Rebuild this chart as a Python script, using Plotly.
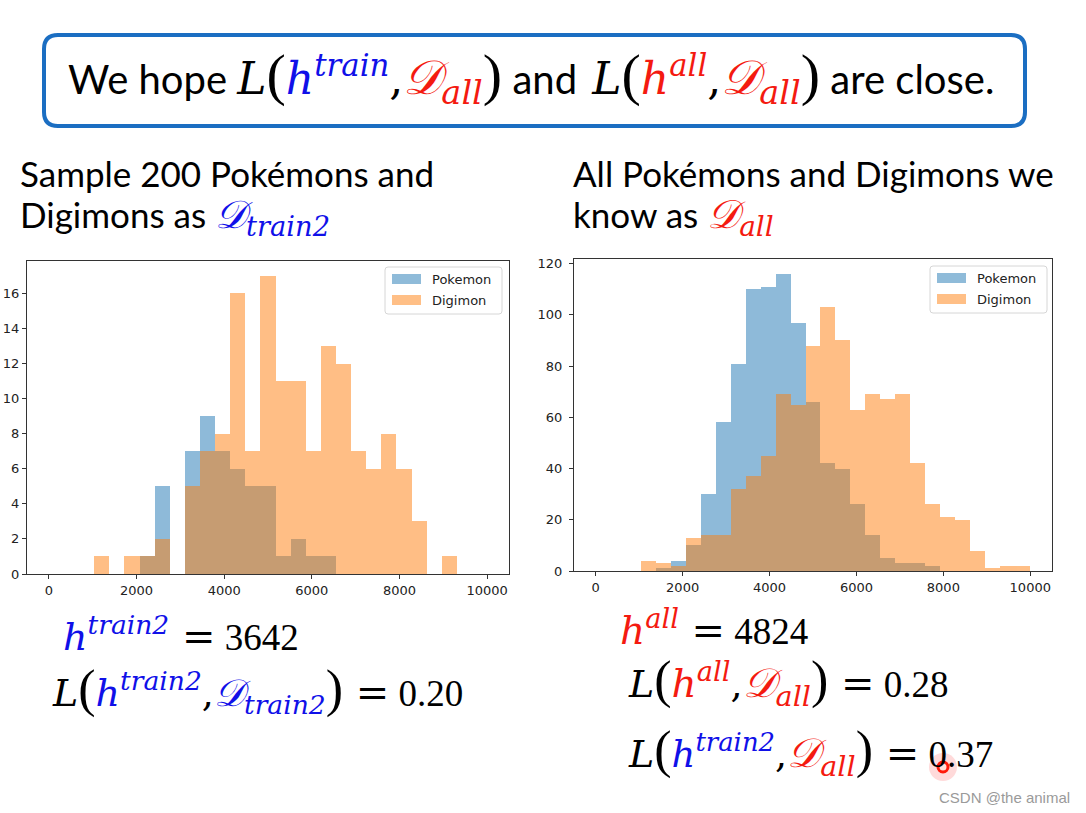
import plotly.graph_objects as go

# ---------------- data ----------------
X_MIN, X_MAX, N_BINS = 0, 10000, 29
series_names = ["Pokemon", "Digimon"]
left_pokemon = [0, 0, 0, 0, 0, 0, 1, 5, 0, 7, 9, 7, 6, 5, 5, 1, 2, 1, 1, 0, 0, 0, 0, 0, 0, 0, 0, 0, 0]
left_digimon = [0, 0, 0, 1, 0, 1, 1, 2, 0, 5, 7, 8, 16, 7, 17, 11, 11, 7, 13, 12, 7, 6, 8, 6, 3, 0, 1, 0, 0]
right_pokemon = [0, 0, 0, 0, 1, 4, 10, 30, 58, 81, 110, 111, 116, 97, 66, 42, 40, 26, 14, 5, 3, 3, 2, 0, 0, 0, 0, 0, 0]
right_digimon = [0, 0, 0, 4, 3, 2, 13, 14, 14, 32, 37, 45, 69, 65, 88, 103, 90, 63, 69, 67, 69, 42, 26, 21, 20, 8, 1, 2, 2]
x_ticks = [0, 2000, 4000, 6000, 8000, 10000]
x_tick_labels = ["0", "2000", "4000", "6000", "8000", "10000"]
left_y_ticks = [0, 2, 4, 6, 8, 10, 12, 14, 16]
right_y_ticks = [0, 20, 40, 60, 80, 100, 120]

# ---------------- geometry helpers (page pixels -> paper) ----------------
W, H = 1086, 813
FW, FH = W, H


def px(X):
    return X / FW


def py(Y):
    return 1 - Y / FH


bw = (X_MAX - X_MIN) / N_BINS
centers = [X_MIN + (i + 0.5) * bw for i in range(N_BINS)]

C_BLUE = "#1f77b4"
C_ORANGE = "#ff7f0e"

fig = go.Figure()
for (xa, ya, pk, dg) in [("x", "y", left_pokemon, left_digimon), ("x2", "y2", right_pokemon, right_digimon)]:
    fig.add_trace(go.Bar(x=centers, y=pk, width=bw, name=series_names[0], xaxis=xa, yaxis=ya,
                         marker=dict(color=C_BLUE, line=dict(width=0)), opacity=0.5, showlegend=False))
    fig.add_trace(go.Bar(x=centers, y=dg, width=bw, name=series_names[1], xaxis=xa, yaxis=ya,
                         marker=dict(color=C_ORANGE, line=dict(width=0)), opacity=0.5, showlegend=False))

tickfont = dict(family="DejaVu Sans", size=13, color="#222")
axis_common = dict(showline=True, mirror=True, linecolor="#333", linewidth=1, ticks="outside",
                   ticklen=4, tickcolor="#333", showgrid=False, zeroline=False, tickfont=tickfont,
                   automargin=False)

fig.update_layout(
    width=FW, height=FH, margin=dict(l=0, r=0, t=0, b=0, autoexpand=False),
    paper_bgcolor="white", plot_bgcolor="white", barmode="overlay", bargap=0,
    xaxis=dict(domain=[px(27), px(509)], range=[-500, 10500], tickvals=x_ticks, ticktext=x_tick_labels,
               anchor="y", **axis_common),
    yaxis=dict(domain=[py(574), py(261)], range=[0, 17.85], tickvals=left_y_ticks, anchor="x",
               **axis_common),
    xaxis2=dict(domain=[px(574), px(1052)], range=[-500, 10500], tickvals=x_ticks, ticktext=x_tick_labels,
                anchor="y2", **axis_common),
    yaxis2=dict(domain=[py(571), py(259)], range=[0, 121.8], tickvals=right_y_ticks, anchor="x2",
                ticklabelstandoff=4, **axis_common),
)


def rrect_path(x0, y0, x1, y1, r):
    X0, X1, Y0, Y1 = px(x0), px(x1), py(y0), py(y1)
    rx, ry = r / FW, r / FH
    return (f"M{X0+rx},{Y0} L{X1-rx},{Y0} Q{X1},{Y0} {X1},{Y0-ry} L{X1},{Y1+ry} "
            f"Q{X1},{Y1} {X1-rx},{Y1} L{X0+rx},{Y1} Q{X0},{Y1} {X0},{Y1+ry} "
            f"L{X0},{Y0-ry} Q{X0},{Y0} {X0+rx},{Y0} Z")


shapes = []
# title box
shapes.append(dict(type="path", xref="paper", yref="paper", path=rrect_path(44, 35, 1025, 126, 14),
                   line=dict(color="#1b6ec2", width=4), fillcolor="rgba(0,0,0,0)"))

annotations = []


def add_text(x, y, text, size=35, family="Lato", color="#000", xanchor="left"):
    annotations.append(dict(x=px(x), y=py(y), xref="paper", yref="paper", text=text, showarrow=False,
                            xanchor=xanchor, yanchor="middle", align="left",
                            font=dict(family=family, size=size, color=color)))


# manual legends (matplotlib style)
for (lx, ly) in [(385, 267), (930, 266)]:
    shapes.append(dict(type="path", xref="paper", yref="paper", path=rrect_path(lx, ly, lx + 117, ly + 47, 3),
                       line=dict(color="#d6d6d6", width=1), fillcolor="rgba(255,255,255,0.85)"))
    for k, c in enumerate([C_BLUE, C_ORANGE]):
        yy = ly + 7 + k * 21
        shapes.append(dict(type="rect", xref="paper", yref="paper", x0=px(lx + 7), x1=px(lx + 36),
                           y0=py(yy), y1=py(yy + 10), line=dict(width=0), fillcolor=c, opacity=0.5))
        add_text(lx + 45, yy + 5, series_names[k], size=13, family="DejaVu Sans", color="#222")

# laser pointer dot
shapes.append(dict(type="circle", xref="paper", yref="paper", x0=px(929), x1=px(957), y0=py(753), y1=py(781),
                   line=dict(width=0), fillcolor="rgba(255,70,70,0.2)"))
shapes.append(dict(type="circle", xref="paper", yref="paper", x0=px(938), x1=px(948), y0=py(762), y1=py(772),
                   line=dict(color="#ff1a0a", width=3), fillcolor="#ffe0d8"))

BLUE = "#1010e8"
RED = "#f41a10"
MF = "DejaVu Serif"
NF = "Liberation Serif"
SCRIPT_D = "\U0001D49F"
THIN = "\u2009"


def m(s, color="#000", size=None, italic=True, family=MF):
    st = f"font-family:{family};color:{color};"
    if italic:
        st += "font-style:italic;"
    if size:
        st += f"font-size:{size}px;"
    return f'<span style="{st}">{s}</span>'


def paren(c, size):
    return m(c, size=size, italic=False, family=NF)


def h_sup(sup, color, size):
    return m(f"h<sup>{sup}</sup>", color=color, size=size)


def D_sub(sub, color, size):
    return m(f"{SCRIPT_D}<sub>{sub}</sub>", color=color, size=size)


def eq(v):
    return m(" =", size=40, italic=False, family=MF) + m(" " + v, size=37, italic=False, family=NF)


# title
ts = 44
title = ("We hope " + m("L", size=ts) + paren("(", 58) + h_sup("train", BLUE, ts) + m(",", size=ts, italic=False)
         + D_sub("all", RED, 48) + paren(")", 58) + " and" + THIN + " " + m("L", size=ts) + paren("(", 58)
         + h_sup("all", RED, ts) + m(",", size=ts, italic=False) + D_sub("all", RED, 48) + paren(")", 58)
         + " are close.")
add_text(66, 77, title, size=40)

# section headings
add_text(18, 173, "Sample 200 Pokémons and", size=35)
add_text(18, 217, "Digimons as " + D_sub("train2", BLUE, 39), size=35)
add_text(571, 173, "All Pokémons and Digimons we", size=35)
add_text(571, 217, "know as " + D_sub("all", RED, 40), size=35)

# results
bs = 38
add_text(61, 634, h_sup("train2", BLUE, 38) + eq("3642"), size=38)
add_text(50, 690, m("L", size=bs) + paren("(", 52) + h_sup("train2", BLUE, 38) + m(",", size=bs, italic=False)
         + D_sub("train2", BLUE, 38) + paren(")", 52) + eq("0.20"), size=38)
add_text(618, 628, h_sup("all", RED, 39) + eq("4824"), size=38)
add_text(626, 682, m("L", size=bs) + paren("(", 52) + h_sup("all", RED, 39) + m(",", size=bs, italic=False)
         + D_sub("all", RED, 41) + paren(")", 52) + eq("0.28"), size=38)
add_text(626, 752, m("L", size=bs) + paren("(", 52) + h_sup("train2", BLUE, 37) + m(",", size=bs, italic=False)
         + D_sub("all", RED, 41) + paren(")", 52) + eq("0.37"), size=38)

# watermark
add_text(1072, 797, "CSDN @the animal", size=15, family="Liberation Sans Narrow, Liberation Sans",
         color="#9a9a9a", xanchor="right")

fig.update_layout(shapes=shapes, annotations=annotations)
fig.write_html("out.html", config={"displayModeBar": False},
               post_script="document.body.style.margin='0px';document.documentElement.style.overflow='hidden';")
